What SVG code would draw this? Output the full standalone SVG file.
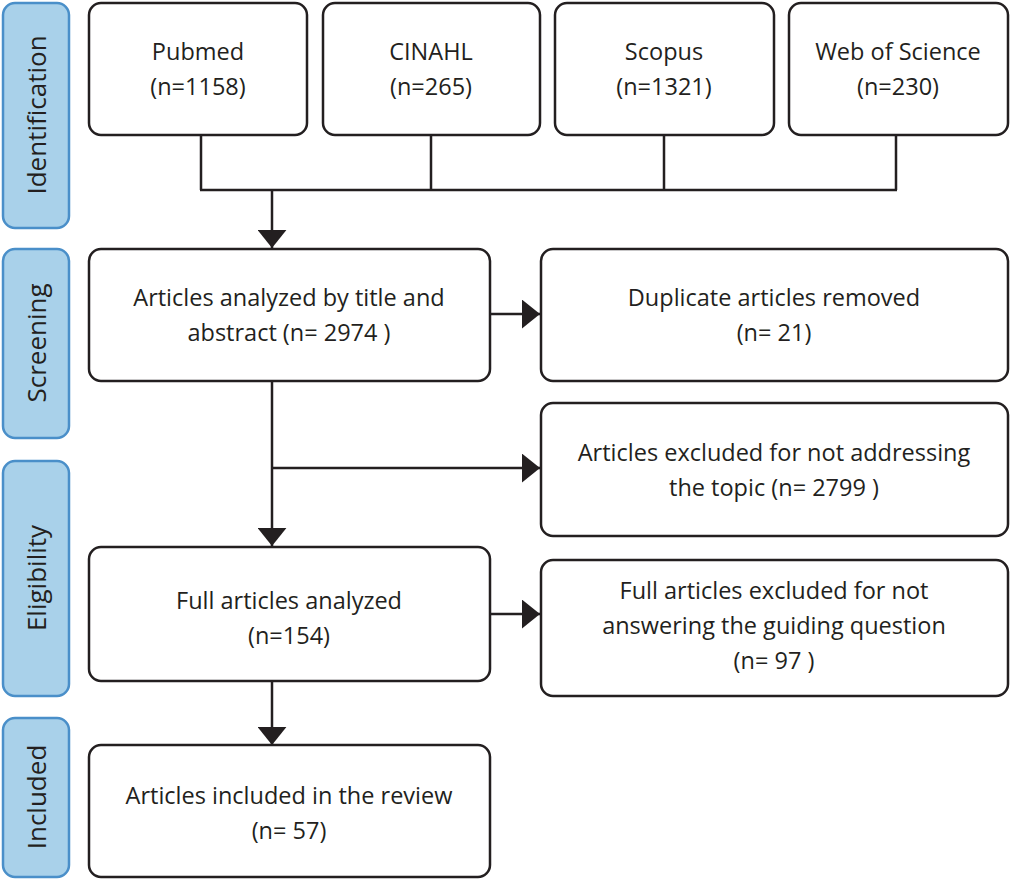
<svg xmlns="http://www.w3.org/2000/svg" width="1011" height="880" viewBox="0 0 1011 880">
<style>
.side{fill:#a9d1ea;stroke:#4a8fc9;stroke-width:2.5}
.box{fill:#fff;stroke:#231f20;stroke-width:2.5}
.t{font-family:"Open Sans","Liberation Sans",sans-serif;font-size:23.5px;fill:#231f20;text-anchor:middle}
.st{font-family:"Open Sans","Liberation Sans",sans-serif;font-size:26px;fill:#231f20;text-anchor:middle}
.c{fill:none;stroke:#231f20;stroke-width:2.5}
</style>
<defs>
<marker id="b" viewBox="0 0 10 16" refX="10" refY="8" markerWidth="18" markerHeight="29" orient="auto" markerUnits="userSpaceOnUse"><path d="M0,0L10,8L0,16z" fill="#231f20"/></marker></defs>
<g id="lab-identification"><rect class="side" x="3" y="3" width="66" height="225" rx="12"/><text class="st" transform="translate(46,115) rotate(-90)">Identification</text></g>
<g id="lab-screening"><rect class="side" x="3" y="249" width="66" height="189" rx="12"/><text class="st" transform="translate(46,343) rotate(-90)">Screening</text></g>
<g id="lab-eligibility"><rect class="side" x="3" y="461" width="66" height="235" rx="12"/><text class="st" transform="translate(46,578) rotate(-90)">Eligibility</text></g>
<g id="lab-included"><rect class="side" x="3" y="718" width="66" height="159" rx="12"/><text class="st" transform="translate(46,797) rotate(-90)">Included</text></g>
<g id="pubmed"><rect class="box" x="89" y="3" width="218" height="132" rx="12"/><text class="t" x="198" y="60">Pubmed</text><text class="t" x="198" y="95">(n=1158)</text></g>
<g id="cinahl"><rect class="box" x="323" y="3" width="217" height="132" rx="12"/><text class="t" x="431" y="60">CINAHL</text><text class="t" x="431" y="95">(n=265)</text></g>
<g id="scopus"><rect class="box" x="555" y="3" width="219" height="132" rx="12"/><text class="t" x="664" y="60">Scopus</text><text class="t" x="664" y="95">(n=1321)</text></g>
<g id="wos"><rect class="box" x="789" y="3" width="219" height="132" rx="12"/><text class="t" x="898" y="60">Web of Science</text><text class="t" x="898" y="95">(n=230)</text></g>
<g id="screen"><rect class="box" x="89" y="249" width="401" height="132" rx="12"/><text class="t" x="289" y="306">Articles analyzed by title and</text><text class="t" x="289" y="341">abstract (n= 2974 )</text></g>
<g id="dup"><rect class="box" x="541" y="249" width="467" height="132" rx="12"/><text class="t" x="774" y="306">Duplicate articles removed</text><text class="t" x="774" y="341">(n= 21)</text></g>
<g id="excl"><rect class="box" x="541" y="403" width="467" height="133" rx="12"/><text class="t" x="774" y="461">Articles excluded for not addressing</text><text class="t" x="774" y="496">the topic (n= 2799 )</text></g>
<g id="full"><rect class="box" x="89" y="547" width="401" height="134" rx="12"/><text class="t" x="289" y="609">Full articles analyzed</text><text class="t" x="289" y="644">(n=154)</text></g>
<g id="fullexcl"><rect class="box" x="541" y="560" width="467" height="136" rx="12"/><text class="t" x="774" y="599">Full articles excluded for not</text><text class="t" x="774" y="634">answering the guiding question</text><text class="t" x="774" y="669">(n= 97 )</text></g>
<g id="incl"><rect class="box" x="89" y="745" width="401" height="132" rx="12"/><text class="t" x="289" y="804">Articles included in the review</text><text class="t" x="289" y="839">(n= 57)</text></g>
<g id="connectors">
<path class="c" d="M201,135V190M431,135V190M664,135V190M896,135V190M200,190H897"/>
<path class="c" d="M272,190V248" marker-end="url(#b)"/>
<path class="c" d="M490,314H540" marker-end="url(#b)"/>
<path class="c" d="M272,381V546" marker-end="url(#b)"/>
<path class="c" d="M272,468H540" marker-end="url(#b)"/>
<path class="c" d="M490,614H540" marker-end="url(#b)"/>
<path class="c" d="M272,681V745" marker-end="url(#b)"/>
</g>
</svg>
